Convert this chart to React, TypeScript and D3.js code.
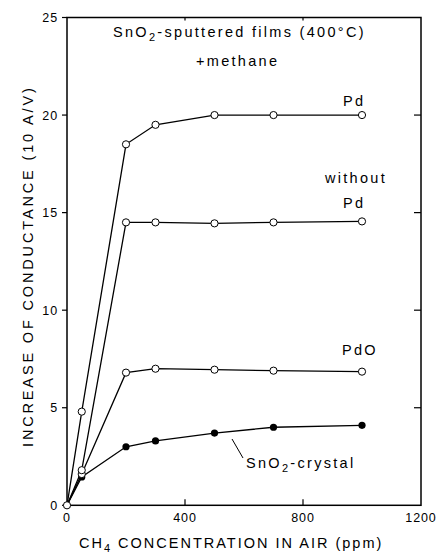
import React from "react";
import * as d3 from "d3";

// Methane concentration in air (ppm)
const concentration = [0, 50, 200, 300, 500, 700, 1000];
// Conductance increase for each sensor type
const pdFilm = [0, 4.8, 18.5, 19.5, 20, 20, 20];
const noPdFilm = [0, 1.8, 14.5, 14.5, 14.45, 14.5, 14.55];
const pdoFilm = [0, 1.6, 6.8, 7.0, 6.95, 6.9, 6.85];
const crystal = [0, 1.45, 3.0, 3.3, 3.7, 4.0, 4.1];

const xTicks = [0, 400, 800, 1200];
const yTicks = [0, 5, 10, 15, 20, 25];

const W = 439;
const H = 556;
const FONT = "'Liberation Sans', Arial, Helvetica, sans-serif";

export default function App() {
  const x = d3.scaleLinear().domain([0, 1200]).range([67, 421]);
  const y = d3.scaleLinear().domain([0, 25]).range([505.3, 17.5]);

  const line = d3
    .line<number>()
    .x((_, i) => x(concentration[i]))
    .y((v) => y(v));

  const openSeries = [pdFilm, noPdFilm, pdoFilm];

  const [x0, x1] = x.range();
  const [y0, y1] = y.range();

  return (
    <svg
      width={W}
      height={H}
      style={{ position: "absolute", left: 0, top: 0, background: "#fff" }}
      fontFamily={FONT}
    >
      <rect x={0} y={0} width={W} height={H} fill="#fff" />

      {/* frame */}
      <rect
        x={x0}
        y={y1}
        width={x1 - x0}
        height={y0 - y1}
        fill="none"
        stroke="#000"
        strokeWidth={1.5}
      />

      {/* y ticks: outward on left, inward on right */}
      {yTicks.map((t) => (
        <g key={"yt" + t}>
          <line x1={x0 - 5} x2={x0} y1={y(t)} y2={y(t)} stroke="#000" strokeWidth={1.2} />
          {t > 0 && t < 25 && (
            <line x1={x1 - 7} x2={x1} y1={y(t)} y2={y(t)} stroke="#000" strokeWidth={1.2} />
          )}
          <text
            x={x0 - 9}
            y={y(t)}
            dy="0.36em"
            textAnchor="end"
            fontSize={12.5}
            letterSpacing={0.9}
            fill="#000"
          >
            {t}
          </text>
        </g>
      ))}

      {/* x ticks: inward on bottom and top */}
      {xTicks.map((t) => (
        <g key={"xt" + t}>
          {t > 0 && t < 1200 && (
            <>
              <line x1={x(t)} x2={x(t)} y1={y0} y2={y0 - 6} stroke="#000" strokeWidth={1.2} />
              <line x1={x(t)} x2={x(t)} y1={y1} y2={y1 + 3} stroke="#000" strokeWidth={1.2} />
            </>
          )}
          <text
            x={x(t)}
            y={522}
            textAnchor="middle"
            fontSize={12.5}
            letterSpacing={0.9}
            fill="#000"
          >
            {t}
          </text>
        </g>
      ))}

      {/* series lines */}
      {[crystal, ...openSeries].map((s, k) => (
        <path key={"l" + k} d={line(s) || ""} fill="none" stroke="#000" strokeWidth={1.3} />
      ))}

      {/* filled markers: crystal */}
      {crystal.map((v, i) =>
        i === 0 ? null : (
          <circle key={"c" + i} cx={x(concentration[i])} cy={y(v)} r={3.6} fill="#000" />
        )
      )}

      {/* open markers: sputtered films */}
      {[pdoFilm, noPdFilm, pdFilm].map((s, k) =>
        s.map((v, i) =>
          i === 0 ? null : (
            <circle
              key={"o" + k + "-" + i}
              cx={x(concentration[i])}
              cy={y(v)}
              r={3.6}
              fill="#fff"
              stroke="#000"
              strokeWidth={1}
            />
          )
        )
      )}
      <circle cx={x(0)} cy={y(0)} r={3.6} fill="#fff" stroke="#000" strokeWidth={1} />

      {/* annotations */}
      <g fontSize={14.5} fill="#000" letterSpacing={2.3}>
        <text x={113} y={37}>
          SnO<tspan fontSize={11} dy={4}>2</tspan>
          <tspan dy={-4}>-sputtered films (400°C)</tspan>
        </text>
        <text x={196} y={66}>+methane</text>
        <text x={343} y={106}>Pd</text>
        <text x={325} y={183}>without</text>
        <text x={343} y={208}>Pd</text>
        <text x={342} y={355}>PdO</text>
        <text x={246} y={468}>
          SnO<tspan fontSize={11} dy={4}>2</tspan>
          <tspan dy={-4}>-crystal</tspan>
        </text>
      </g>
      <line x1={232} y1={439} x2={243} y2={458} stroke="#000" strokeWidth={1} />

      {/* axis titles */}
      <text x={79} y={548} fontSize={14.5} letterSpacing={2} fill="#000">
        CH<tspan fontSize={11} dy={4}>4</tspan>
        <tspan dy={-4}> CONCENTRATION IN AIR (ppm)</tspan>
      </text>
      <text
        transform="translate(33,447) rotate(-90)"
        x={0}
        y={0}
        fontSize={14.5}
        letterSpacing={2.85}
        fill="#000"
      >
        INCREASE OF CONDUCTANCE (10 A/V)
      </text>
    </svg>
  );
}
